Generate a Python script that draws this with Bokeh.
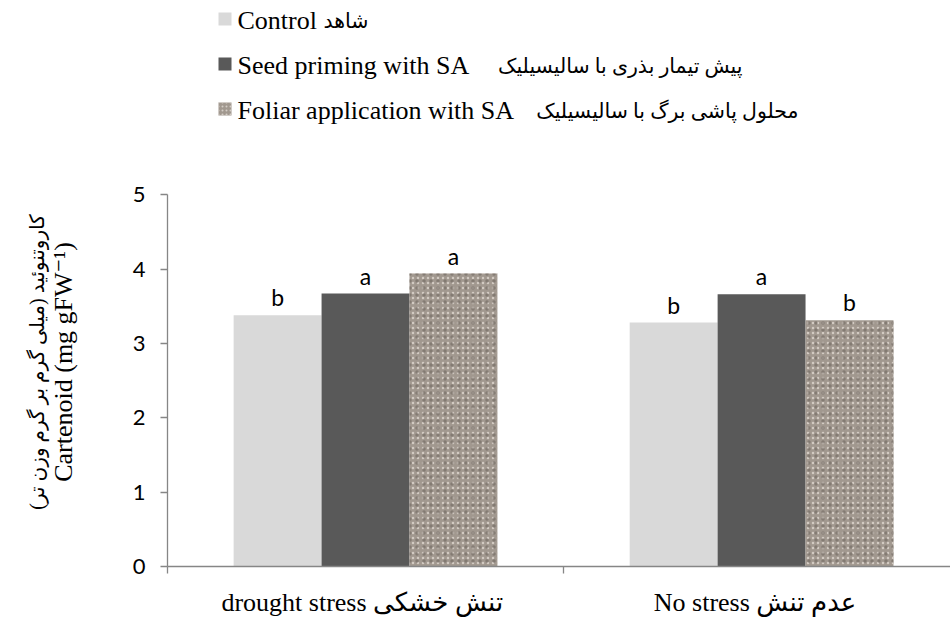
from bokeh.plotting import figure
from bokeh.models import Range1d, FixedTicker, LinearAxis
from bokeh.layouts import column
from bokeh.core.properties import value
from bokeh.embed import file_html
from bokeh.resources import INLINE

# ---------------- data ----------------
groups = ["drought stress  تنش خشکی", "No stress   عدم تنش"]
treat_en = ["Control", "Seed priming with SA", "Foliar application with SA"]
treat_fa = ["شاهد", "پیش تیمار بذری با سالیسیلیک", "محلول پاشی برگ با سالیسیلیک"]
control = [3.38, 3.28]
seed = [3.67, 3.66]
foliar = [3.94, 3.31]
letters_control = ["b", "b"]
letters_seed = ["a", "a"]
letters_foliar = ["a", "b"]
y_ticks = [0, 1, 2, 3, 4, 5]
y_label_en = "Cartenoid (mg gFW\u207b\u00b9)"
y_label_fa = "\u200fکاروتنوئید (میلی گرم بر گرم وزن تر)\u200f"

# ---------------- styles ----------------
C_CONTROL = "#d9d9d9"
C_SEED = "#595959"
C_FOLIAR = "#a1988f"
AXIS_C = "#868686"
SERIF = "Liberation Serif, DejaVu Sans"
SANS = "Lato"

W = 950
LEFT = 167
BAR_W = 0.222
offsets = [-BAR_W, 0.0, BAR_W]

# ---------------- legend figure (data units = page pixels) ----------------
LH = 130
leg = figure(width=W, height=LH, x_range=Range1d(LEFT, W), y_range=Range1d(LH, 0),
             toolbar_location=None, output_backend="svg",
             min_border_left=LEFT, min_border_right=0, min_border_top=0, min_border_bottom=0)
leg.axis.visible = False
leg.grid.visible = False
leg.outline_line_color = None

sq_y = [18.5, 63.5, 108.5]
txt_y = [20, 65, 110]
sq_x = [224.5] * 3
fa_x = [368, 742, 798]
leg.rect(x=sq_x[:1], y=sq_y[:1], width=13, height=13, fill_color=C_CONTROL, line_color=None)
leg.rect(x=sq_x[1:2], y=sq_y[1:2], width=13, height=13, fill_color=C_SEED, line_color=None)
leg.rect(x=sq_x[2:], y=sq_y[2:], width=13, height=13, fill_color=C_FOLIAR, line_color=None,
         hatch_pattern="dot", hatch_color="#d4cdc6", hatch_scale=4, hatch_weight=1.5)
leg.text(x=[237] * 3, y=txt_y, text=treat_en, text_font=value(SERIF), text_font_size="26px",
         text_baseline="middle", text_align="left", text_color="black")
leg.text(x=fa_x, y=txt_y, text=treat_fa, text_font=value(SERIF), text_font_size="20.5px",
         text_baseline="middle", text_align="right", text_color="black")

# ---------------- main figure ----------------
p = figure(width=W, height=489, x_range=Range1d(0, 1.977), y_range=Range1d(0, 5.5),
           toolbar_location=None, output_backend="svg",
           min_border_left=LEFT, min_border_right=0, min_border_top=27, min_border_bottom=52,
           y_axis_location=None, x_axis_location=None)
p.grid.visible = False
p.outline_line_color = None

xc = [i + 0.5 + offsets[0] for i in range(len(groups))]
xs = [i + 0.5 + offsets[1] for i in range(len(groups))]
xf = [i + 0.5 + offsets[2] for i in range(len(groups))]

p.vbar(x=xc, top=control, width=BAR_W, fill_color=C_CONTROL, line_color=None)
p.vbar(x=xs, top=seed, width=BAR_W, fill_color=C_SEED, line_color=None)
p.vbar(x=xf, top=foliar, width=BAR_W, fill_color=C_FOLIAR, line_color=None,
       hatch_pattern="dot", hatch_color="#d2cac2", hatch_scale=5, hatch_weight=2)
p.vbar(x=xf, top=foliar, width=BAR_W, fill_alpha=0, line_color=None,
       hatch_pattern="dot", hatch_color="#6f675f", hatch_scale=7, hatch_weight=1.2, hatch_alpha=0.6)

for xx, vv, ll in ((xc, control, letters_control), (xs, seed, letters_seed), (xf, foliar, letters_foliar)):
    p.text(x=xx, y=vv, text=ll, text_font=value(SANS), text_font_size="23px",
           text_align="center", text_baseline="alphabetic", y_offset=-18, text_color="black")

# y axis (main)
yax = LinearAxis(ticker=FixedTicker(ticks=y_ticks, minor_ticks=[]), bounds=(0, 5))
yax.axis_line_color = AXIS_C
yax.axis_line_width = 1.3
yax.major_tick_line_color = AXIS_C
yax.major_tick_line_width = 1.3
yax.major_tick_out = 7
yax.major_tick_in = 0
yax.minor_tick_line_color = None
yax.major_label_text_font = SANS
yax.major_label_text_font_size = "22px"
yax.major_label_text_color = "black"
yax.major_label_standoff = 15
yax.axis_label = y_label_en
yax.axis_label_text_font = SERIF
yax.axis_label_text_font_size = "26px"
yax.axis_label_text_font_style = "normal"
yax.axis_label_text_color = "black"
yax.axis_label_standoff = 52
p.add_layout(yax, "left")

# y axis (Persian title line)
yax2 = LinearAxis(ticker=FixedTicker(ticks=[], minor_ticks=[]))
yax2.axis_line_color = None
yax2.major_tick_line_color = None
yax2.minor_tick_line_color = None
yax2.major_label_text_font_size = "0px"
yax2.major_label_standoff = 0
yax2.axis_label = y_label_fa
yax2.axis_label_text_font = SERIF
yax2.axis_label_text_font_size = "20px"
yax2.axis_label_text_font_style = "normal"
yax2.axis_label_text_color = "black"
yax2.axis_label_standoff = -2
p.add_layout(yax2, "left")

# x axis
xax = LinearAxis(ticker=FixedTicker(ticks=[i + 0.5 for i in range(len(groups))],
                                    minor_ticks=list(range(len(groups) + 1))))
xax.major_label_overrides = {i + 0.5: g for i, g in enumerate(groups)}
xax.axis_line_color = AXIS_C
xax.axis_line_width = 1.3
xax.major_tick_line_color = None
xax.minor_tick_line_color = AXIS_C
xax.minor_tick_line_width = 1.3
xax.minor_tick_out = 7
xax.minor_tick_in = 0
xax.major_label_text_font = SERIF
xax.major_label_text_font_size = "26px"
xax.major_label_text_color = "black"
xax.major_label_standoff = 14
p.add_layout(xax, "below")

layout = column(leg, p, spacing=0)
open("out.html", "w").write(file_html(layout, INLINE))
